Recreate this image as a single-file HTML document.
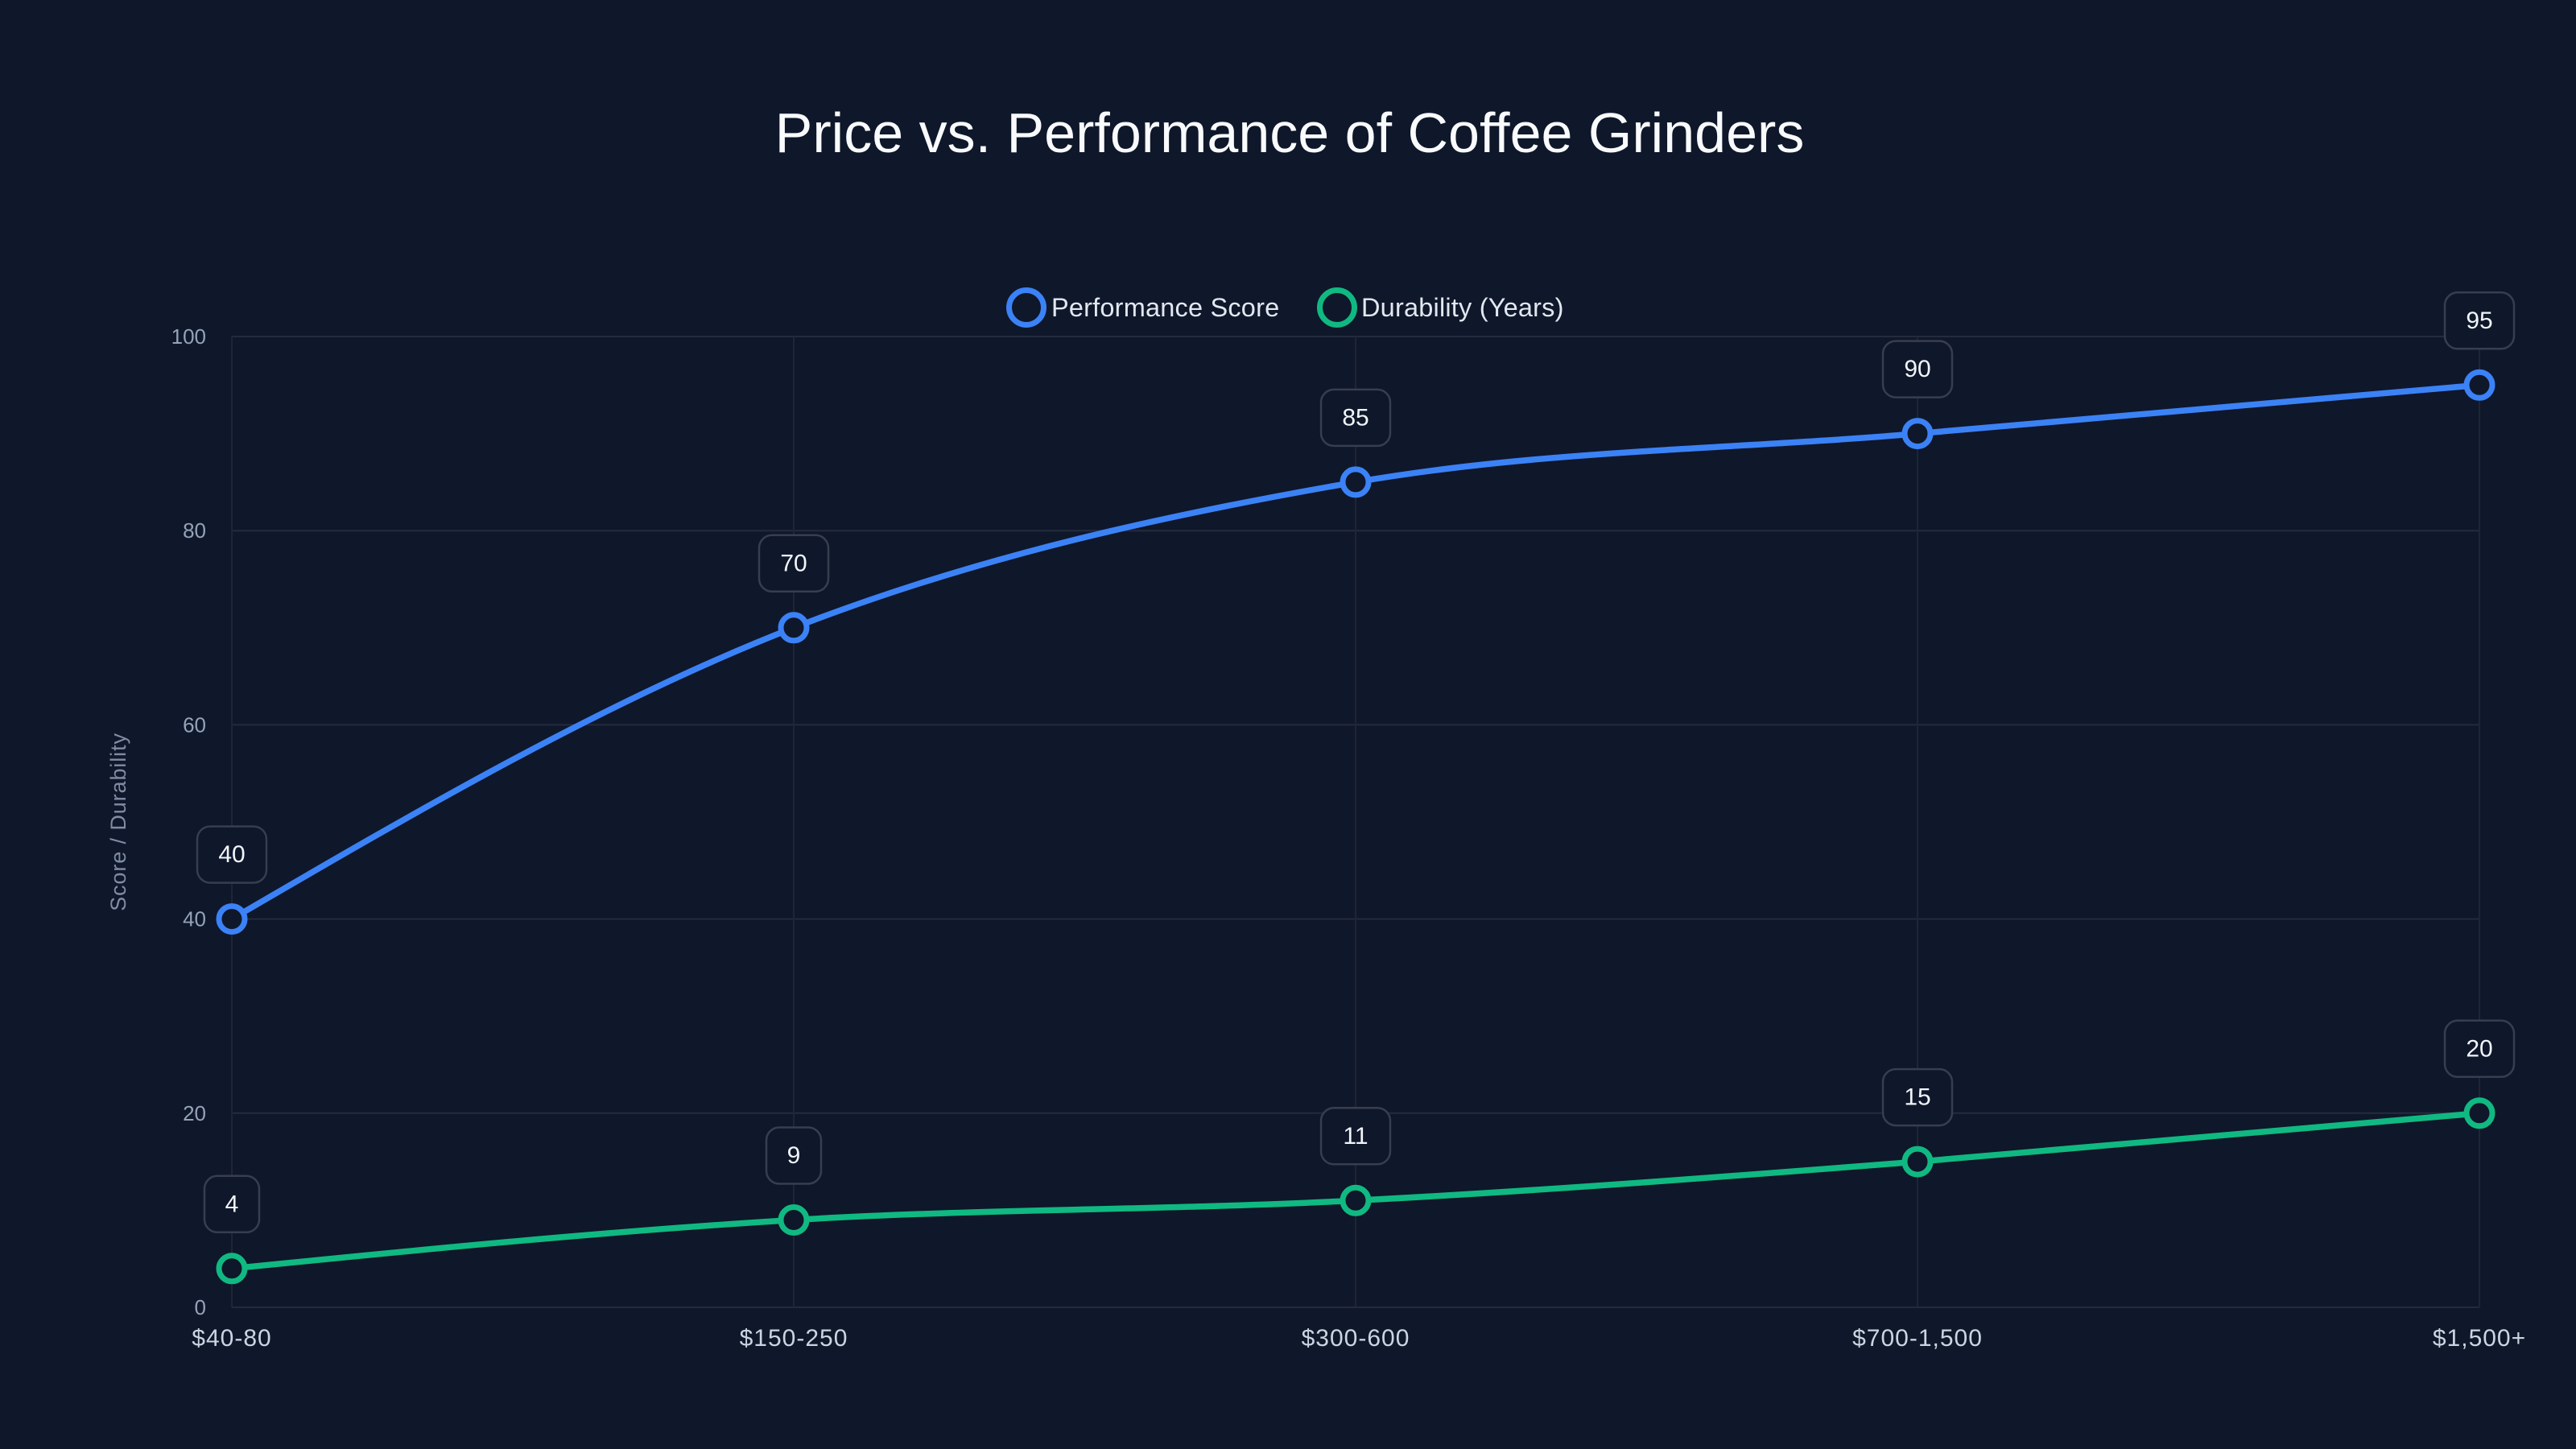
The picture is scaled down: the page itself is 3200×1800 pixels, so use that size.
<!DOCTYPE html>
<html>
<head>
<meta charset="utf-8">
<style>
  html, body { margin:0; padding:0; background:#0f172a; }
  body { width:3200px; height:1800px; overflow:hidden; }
  svg { display:block; }
  text { font-family: "Liberation Sans", Arial, sans-serif; }
</style>
</head>
<body>
<svg width="3200" height="1800" viewBox="0 0 3200 1800" xmlns="http://www.w3.org/2000/svg">
  <rect x="0" y="0" width="3200" height="1800" fill="#0f172a"/>

  <!-- Title -->
  <text x="1602" y="189" text-anchor="middle" font-size="70" fill="#f8fafc">Price vs. Performance of Coffee Grinders</text>

  <!-- Legend -->
  <circle cx="1275" cy="382" r="21.5" fill="none" stroke="#3b82f6" stroke-width="7"/>
  <text x="1306" y="393" font-size="32.5" letter-spacing="0.2" fill="#e2e8f0">Performance Score</text>
  <circle cx="1661" cy="382" r="21.5" fill="none" stroke="#10b981" stroke-width="7"/>
  <text x="1691" y="393" font-size="32.5" letter-spacing="0.2" fill="#e2e8f0">Durability (Years)</text>

  <!-- Grid horizontal -->
  <g stroke="#232b3c" stroke-width="2">
    <line x1="288" y1="418" x2="3080" y2="418"/>
    <line x1="288" y1="659.2" x2="3080" y2="659.2"/>
    <line x1="288" y1="900.4" x2="3080" y2="900.4"/>
    <line x1="288" y1="1141.6" x2="3080" y2="1141.6"/>
    <line x1="288" y1="1382.8" x2="3080" y2="1382.8"/>
    <line x1="288" y1="1624" x2="3080" y2="1624"/>
  </g>
  <!-- Grid vertical -->
  <g stroke="#1e2636" stroke-width="2">
    <line x1="288" y1="418" x2="288" y2="1624"/>
    <line x1="986" y1="418" x2="986" y2="1624"/>
    <line x1="1684" y1="418" x2="1684" y2="1624"/>
    <line x1="2382" y1="418" x2="2382" y2="1624"/>
    <line x1="3080" y1="418" x2="3080" y2="1624"/>
  </g>

  <!-- Y tick labels -->
  <g font-size="26" fill="#94a3b8" text-anchor="end" dominant-baseline="central">
    <text x="256" y="418">100</text>
    <text x="256" y="659.2">80</text>
    <text x="256" y="900.4">60</text>
    <text x="256" y="1141.6">40</text>
    <text x="256" y="1382.8">20</text>
    <text x="256" y="1624">0</text>
  </g>

  <!-- Y axis label -->
  <text transform="translate(147,1021) rotate(-90)" text-anchor="middle" dominant-baseline="central" font-size="27" letter-spacing="0.9" fill="#7f8ca3">Score / Durability</text>

  <!-- X tick labels -->
  <g font-size="30" fill="#cbd5e1" text-anchor="middle" letter-spacing="1">
    <text x="288" y="1672">$40-80</text>
    <text x="986" y="1672">$150-250</text>
    <text x="1684" y="1672">$300-600</text>
    <text x="2382" y="1672">$700-1,500</text>
    <text x="3080" y="1672">$1,500+</text>
  </g>

  <!-- Performance line -->
  <path d="M288,1141.6 C520.67,1005.9 753.33,870.25 986,779.8 C1218.67,689.35 1451.33,639.1 1684,598.9 C1916.67,558.7 2149.33,558.7 2382,538.6 C2614.67,518.5 2847.33,498.4 3080,478.3"
        fill="none" stroke="#3b82f6" stroke-width="7.5" stroke-linecap="round" stroke-linejoin="round"/>
  <!-- Durability line -->
  <path d="M288,1575.8 C520.67,1552.6 753.33,1529.5 986,1515.5 C1218.67,1501.4 1451.33,1503.4 1684,1491.3 C1916.67,1479.3 2149.33,1461.2 2382,1443.1 C2614.67,1425.0 2847.33,1403.9 3080,1382.8"
        fill="none" stroke="#10b981" stroke-width="7.5" stroke-linecap="round" stroke-linejoin="round"/>

  <!-- Markers -->
  <g fill="#0f172a" stroke="#3b82f6" stroke-width="7">
    <circle cx="288" cy="1141.6" r="16"/>
    <circle cx="986" cy="779.8" r="16"/>
    <circle cx="1684" cy="598.9" r="16"/>
    <circle cx="2382" cy="538.6" r="16"/>
    <circle cx="3080" cy="478.3" r="16"/>
  </g>
  <g fill="#0f172a" stroke="#10b981" stroke-width="7">
    <circle cx="288" cy="1575.8" r="16"/>
    <circle cx="986" cy="1515.5" r="16"/>
    <circle cx="1684" cy="1491.3" r="16"/>
    <circle cx="2382" cy="1443.1" r="16"/>
    <circle cx="3080" cy="1382.8" r="16"/>
  </g>

  <!-- Value label boxes -->
  <g fill="#0f172a" stroke="#363e4f" stroke-width="2.5">
    <!-- performance -->
    <rect x="245" y="1026.6" width="86" height="70" rx="16"/>
    <rect x="943" y="664.8" width="86" height="70" rx="16"/>
    <rect x="1641" y="483.9" width="86" height="70" rx="16"/>
    <rect x="2339" y="423.6" width="86" height="70" rx="16"/>
    <rect x="3037" y="363.3" width="86" height="70" rx="16"/>
    <!-- durability -->
    <rect x="254" y="1460.8" width="68" height="70" rx="16"/>
    <rect x="952" y="1400.5" width="68" height="70" rx="16"/>
    <rect x="1641" y="1376.3" width="86" height="70" rx="16"/>
    <rect x="2339" y="1328.1" width="86" height="70" rx="16"/>
    <rect x="3037" y="1267.8" width="86" height="70" rx="16"/>
  </g>
  <g font-size="30" fill="#f1f5f9" text-anchor="middle" dominant-baseline="central">
    <text x="288" y="1061.6">40</text>
    <text x="986" y="699.8">70</text>
    <text x="1684" y="518.9">85</text>
    <text x="2382" y="458.6">90</text>
    <text x="3080" y="398.3">95</text>
    <text x="288" y="1495.8">4</text>
    <text x="986" y="1435.5">9</text>
    <text x="1684" y="1411.3">11</text>
    <text x="2382" y="1363.1">15</text>
    <text x="3080" y="1302.8">20</text>
  </g>
</svg>
</body>
</html>
